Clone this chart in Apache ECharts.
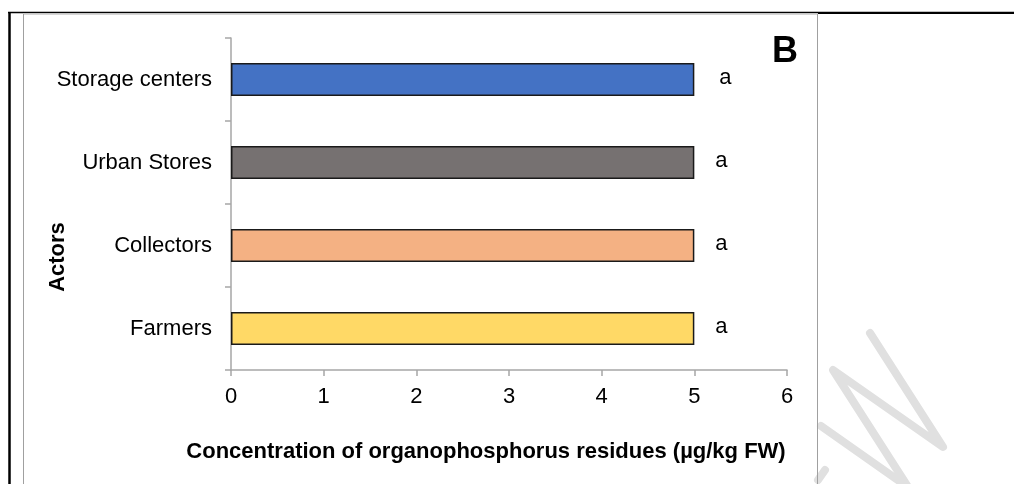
<!DOCTYPE html>
<html>
<head>
<meta charset="utf-8">
<script src="https://cdn.jsdelivr.net/npm/echarts@6/dist/echarts.min.js"></script>
<style>
  html, body { margin: 0; padding: 0; background: #fff; }
  #chart { width: 1014px; height: 484px; }
</style>
</head>
<body>
<div id="chart"></div>
<script>
// data
var actors = ['Farmers', 'Collectors', 'Urban Stores', 'Storage centers'];
var concentrations = [5, 5, 5, 5];
var letters = ['a', 'a', 'a', 'a'];
var barColors = ['#FFD966', '#F4B183', '#767171', '#4472C4'];
var xTicks = [0, 1, 2, 3, 4, 5, 6];

var font = '"Liberation Sans", Arial, sans-serif';
var chart = echarts.init(document.getElementById('chart'));

var option = {
  animation: false,
  grid: { left: 231, top: 38, right: 227, bottom: 114 },
  xAxis: {
    type: 'value',
    min: xTicks[0],
    max: xTicks[xTicks.length - 1],
    interval: 1,
    splitLine: { show: false },
    axisLine: { show: true, lineStyle: { color: '#A6A6A6', width: 1.5 } },
    axisTick: { show: true, length: 6, lineStyle: { color: '#A6A6A6', width: 1.5 } },
    axisLabel: { color: '#000', fontFamily: font, fontSize: 22, margin: 16 }
  },
  yAxis: {
    type: 'category',
    data: actors,
    axisLine: { show: true, lineStyle: { color: '#A6A6A6', width: 1.5 } },
    axisTick: { show: true, length: 6, lineStyle: { color: '#A6A6A6', width: 1.5 } },
    axisLabel: { color: '#000', fontFamily: font, fontSize: 22, margin: 19 }
  },
  series: [{
    type: 'bar',
    barWidth: '40%',
    data: concentrations.map(function (v, i) {
      return {
        value: v,
        itemStyle: { color: barColors[i] },
        label: { distance: i === 3 ? 25 : 21 }
      };
    }),
    itemStyle: { borderColor: '#1a1a1a', borderWidth: 1.5 },
    label: {
      show: true,
      position: 'right',
      offset: [0, -2],
      color: '#000',
      fontFamily: font,
      fontSize: 22,
      formatter: function (p) { return letters[p.dataIndex]; }
    }
  }],
  graphic: [
    // frame lines
    { type: 'line', shape: { x1: 8, y1: 12.5, x2: 1014, y2: 12.5 }, style: { stroke: '#000', lineWidth: 1.5 } },
    { type: 'line', shape: { x1: 818, y1: 13.5, x2: 1014, y2: 13.5 }, style: { stroke: '#000', lineWidth: 1 } },
    { type: 'line', shape: { x1: 9.5, y1: 12, x2: 9.5, y2: 484 }, style: { stroke: '#000', lineWidth: 2.5 } },
    { type: 'line', shape: { x1: 23, y1: 14, x2: 817, y2: 14 }, style: { stroke: '#C8C8C8', lineWidth: 1.5 } },
    { type: 'line', shape: { x1: 23.5, y1: 14, x2: 23.5, y2: 484 }, style: { stroke: '#A0A0A0', lineWidth: 1 } },
    { type: 'line', shape: { x1: 817.5, y1: 14, x2: 817.5, y2: 484 }, style: { stroke: '#A0A0A0', lineWidth: 1 } },
    // watermark
    { type: 'polyline', shape: { points: [[870, 333], [943, 447], [833, 370], [910, 490]] },
      style: { stroke: '#E0E0E0', lineWidth: 8, lineCap: 'round', lineJoin: 'round', fill: null }, z: -1 },
    { type: 'polyline', shape: { points: [[821, 426], [912, 490]] },
      style: { stroke: '#E0E0E0', lineWidth: 8, lineCap: 'round', fill: null }, z: -1 },
    { type: 'polyline', shape: { points: [[818, 480], [825, 470]] },
      style: { stroke: '#E0E0E0', lineWidth: 8, lineCap: 'round', fill: null }, z: -1 },
    // panel letter
    { type: 'text', x: 785, y: 52, style: { text: 'B', fill: '#000', font: 'bold 36px ' + font, textAlign: 'center', textVerticalAlign: 'middle' } },
    // axis titles
    { type: 'text', x: 486, y: 452, style: { text: 'Concentration of organophosphorus residues (µg/kg FW)', fill: '#000', font: 'bold 22px ' + font, textAlign: 'center', textVerticalAlign: 'middle' } },
    { type: 'text', x: 58, y: 257, rotation: Math.PI / 2, style: { text: 'Actors', fill: '#000', font: 'bold 22px ' + font, textAlign: 'center', textVerticalAlign: 'middle' } }
  ]
};

chart.setOption(option);
</script>
</body>
</html>
